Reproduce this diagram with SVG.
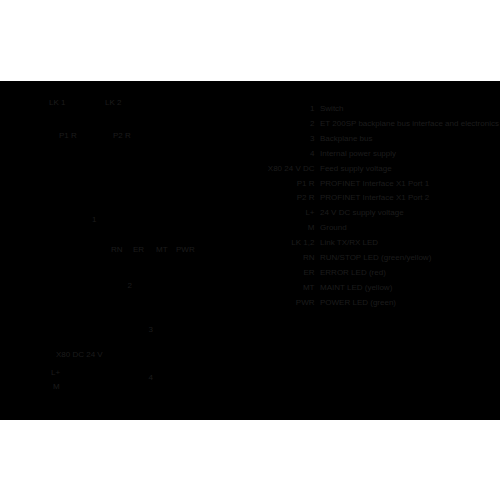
<svg xmlns="http://www.w3.org/2000/svg" width="500" height="500" viewBox="0 0 500 500">
<style>
text{font-family:"Liberation Sans",Arial,sans-serif;font-size:8px;fill:#1c1c1c}
.r{text-anchor:end}
</style>
<rect x="0" y="0" width="500" height="500" fill="#ffffff"/>
<rect x="0" y="81" width="500" height="339" fill="#000000"/>
<g id="labels">
<g id="lk1"><text x="49" y="105">LK 1</text></g>
<g id="lk2"><text x="105" y="105">LK 2</text></g>
<g id="p1r"><text x="59" y="137.5">P1 R</text></g>
<g id="p2r"><text x="113" y="137.5">P2 R</text></g>
<g id="n1"><text x="92" y="221.5">1</text></g>
<g id="rn"><text x="111" y="251.5">RN</text></g>
<g id="er"><text x="133" y="251.5">ER</text></g>
<g id="mt"><text x="156" y="251.5">MT</text></g>
<g id="pwr"><text x="176" y="251.5">PWR</text></g>
<g id="n2"><text x="127.5" y="287.5">2</text></g>
<g id="n3"><text x="148.5" y="331.5">3</text></g>
<g id="x80"><text x="56" y="357">X80 DC 24 V</text></g>
<g id="lplus"><text x="51" y="374.5">L+</text></g>
<g id="m"><text x="53" y="389">M</text></g>
<g id="n4"><text x="148.5" y="379.5">4</text></g>
</g>
<g id="connectors"></g>
<g id="legend">
<text class="r" x="314.5" y="111">1</text><text x="320" y="111">Switch</text>
<text class="r" x="314.5" y="125.9">2</text><text x="320" y="125.9">ET 200SP backplane bus interface and electronics</text>
<text class="r" x="314.5" y="140.8">3</text><text x="320" y="140.8">Backplane bus</text>
<text class="r" x="314.5" y="155.7">4</text><text x="320" y="155.7">Internal power supply</text>
<text class="r" x="314.5" y="170.6">X80 24 V DC</text><text x="320" y="170.6">Feed supply voltage</text>
<text class="r" x="314.5" y="185.5">P1 R</text><text x="320" y="185.5">PROFINET Interface X1 Port 1</text>
<text class="r" x="314.5" y="200.4">P2 R</text><text x="320" y="200.4">PROFINET Interface X1 Port 2</text>
<text class="r" x="314.5" y="215.3">L+</text><text x="320" y="215.3">24 V DC supply voltage</text>
<text class="r" x="314.5" y="230.2">M</text><text x="320" y="230.2">Ground</text>
<text class="r" x="314.5" y="245.1">LK 1,2</text><text x="320" y="245.1">Link TX/RX LED</text>
<text class="r" x="314.5" y="260">RN</text><text x="320" y="260">RUN/STOP LED (green/yellow)</text>
<text class="r" x="314.5" y="274.9">ER</text><text x="320" y="274.9">ERROR LED (red)</text>
<text class="r" x="314.5" y="289.8">MT</text><text x="320" y="289.8">MAINT LED (yellow)</text>
<text class="r" x="314.5" y="304.7">PWR</text><text x="320" y="304.7">POWER LED (green)</text>
</g>
</svg>
